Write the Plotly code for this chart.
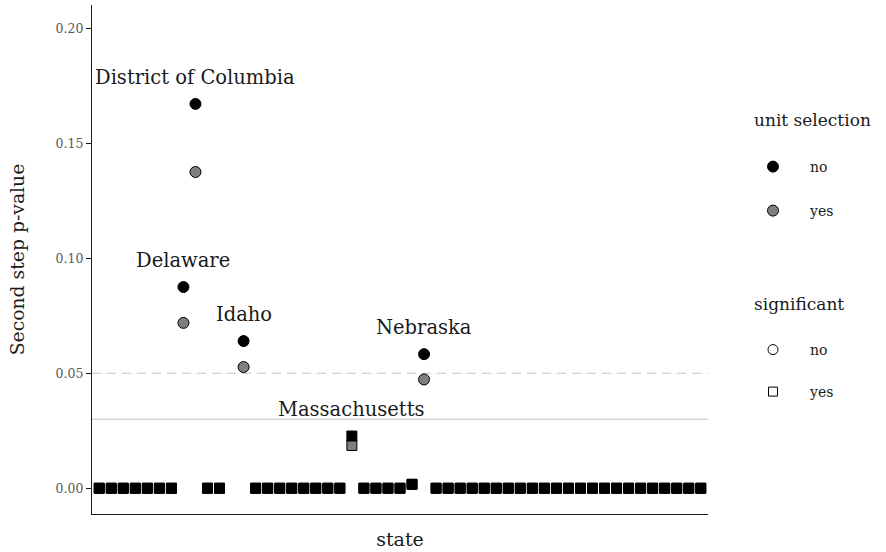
import plotly.graph_objects as go

states = ["Alabama", "Alaska", "Arizona", "Arkansas", "California", "Colorado",
          "Connecticut", "Delaware", "District of Columbia", "Florida", "Georgia",
          "Hawaii", "Idaho", "Illinois", "Indiana", "Iowa", "Kansas", "Kentucky",
          "Louisiana", "Maine", "Maryland", "Massachusetts", "Michigan", "Minnesota",
          "Mississippi", "Missouri", "Montana", "Nebraska", "Nevada", "New Hampshire",
          "New Jersey", "New Mexico", "New York", "North Carolina", "North Dakota",
          "Ohio", "Oklahoma", "Oregon", "Pennsylvania", "Rhode Island",
          "South Carolina", "South Dakota", "Tennessee", "Texas", "Utah", "Vermont",
          "Virginia", "Washington", "West Virginia", "Wisconsin", "Wyoming"]

# second step p-values, unit selection = "no"
p_no = [0, 0, 0, 0, 0, 0, 0, 0.0875, 0.1671, 0, 0, None, 0.0640, 0, 0, 0, 0, 0,
        0, 0, 0, 0.0227, 0, 0, 0, 0, 0.0017, 0.0583, 0, 0, 0, 0, 0, 0, 0,
        0, 0, 0, 0, 0, 0, 0, 0, 0, 0, 0, 0, 0, 0, 0, 0]
# second step p-values, unit selection = "yes"
p_yes = [0, 0, 0, 0, 0, 0, 0, 0.0719, 0.1375, 0, 0, None, 0.0527, 0, 0, 0, 0, 0,
         0, 0, 0, 0.0186, 0, 0, 0, 0, 0.0017, 0.0473, 0, 0, 0, 0, 0, 0, 0,
         0, 0, 0, 0, 0, 0, 0, 0, 0, 0, 0, 0, 0, 0, 0, 0]

sig_threshold = 0.03
ref_line = 0.05
labeled = ["District of Columbia", "Delaware", "Idaho", "Nebraska", "Massachusetts"]
label_offset = 0.0114

FONT = "DejaVu Serif"
BLACK = "#000000"
GREY = "#7f7f7f"
TXT = "#1a1a1a"

fig = go.Figure()

for name, vals, color in [("yes", p_yes, GREY), ("no", p_no, BLACK)]:
    for sig, symbol, size in [(False, "circle", 11), (True, "square", 10)]:
        xs = [s for s, v in zip(states, vals) if v is not None and (v < sig_threshold) == sig]
        ys = [v for v in vals if v is not None and (v < sig_threshold) == sig]
        fig.add_trace(go.Scatter(
            x=xs, y=ys, mode="markers", showlegend=False,
            marker=dict(symbol=symbol, size=size, color=color,
                        line=dict(color=BLACK, width=1)),
            hoverinfo="x+y"))

# labels
for s in labeled:
    i = states.index(s)
    fig.add_annotation(x=s, y=p_no[i] + label_offset, text=s, showarrow=False,
                       xanchor="center", yanchor="middle",
                       font=dict(family=FONT, size=19.5, color=TXT))

fig.add_hline(y=ref_line, line=dict(color="#c4c4c4", width=1.2, dash="9px,6px"),
              layer="below")
fig.add_hline(y=sig_threshold, line=dict(color="#c4c4c4", width=1.2),
              layer="below")

# legend entries
leg_items = [
    ("legend", "no", "circle", 11, BLACK, 167),
    ("legend2", "yes", "circle", 11, GREY, 211),
    ("legend3", "no", "circle-open", 10, BLACK, 350),
    ("legend4", "yes", "square-open", 9, BLACK, 392),
]
for leg, txt, sym, sz, col, yy in leg_items:
    fig.add_trace(go.Scatter(
        x=[None], y=[None], mode="markers", name=txt, legend=leg, showlegend=True,
        marker=dict(symbol=sym, size=sz, color=col,
                    line=dict(color=BLACK, width=1))))

legend_common = dict(xref="container", yref="container", xanchor="left",
                     yanchor="middle", bgcolor="rgba(0,0,0,0)", itemwidth=64,
                     font=dict(family=FONT, size=14, color=TXT))
layout_legends = {}
for leg, txt, sym, sz, col, yy in leg_items:
    layout_legends[leg] = dict(x=736 / 886, y=1 - yy / 552, **legend_common)

for title, yy in [("unit selection", 120), ("significant", 304)]:
    fig.add_annotation(text=title, xref="paper", yref="paper",
                       x=(752 - 92) / 616, y=(514 - yy) / 509,
                       xanchor="left", yanchor="middle", showarrow=False,
                       font=dict(family=FONT, size=17, color=TXT))

fig.update_layout(
    width=886, height=552,
    margin=dict(l=92, r=178, t=5, b=38, autoexpand=False),
    plot_bgcolor="white", paper_bgcolor="white",
    font=dict(family=FONT, color=TXT),
    **layout_legends,
)
fig.update_xaxes(
    type="category", categoryorder="array", categoryarray=states,
    range=[-0.6, 50.6], showgrid=False, zeroline=False, automargin=False,
    showline=True, linecolor=TXT, linewidth=1.2,
    showticklabels=False, ticks="",
    title=dict(text="state", font=dict(family=FONT, size=19), standoff=18),
)
fig.update_yaxes(
    range=[-0.0112, 0.2101], showgrid=False, zeroline=False, automargin=False,
    showline=True, linecolor=TXT, linewidth=1.2,
    ticks="outside", ticklen=5, tickcolor=TXT, tickwidth=1.2,
    tickvals=[0, 0.05, 0.10, 0.15, 0.20], ticktext=["0.00", "0.05", "0.10", "0.15", "0.20"],
    tickfont=dict(family=FONT, size=12.5, color="#5a5a5a"),
    title=dict(text="Second step p-value", font=dict(family=FONT, size=18.8), standoff=25),
)

fig.write_html("out.html", config={"displayModeBar": False},
               post_script="document.body.style.margin='0';")
